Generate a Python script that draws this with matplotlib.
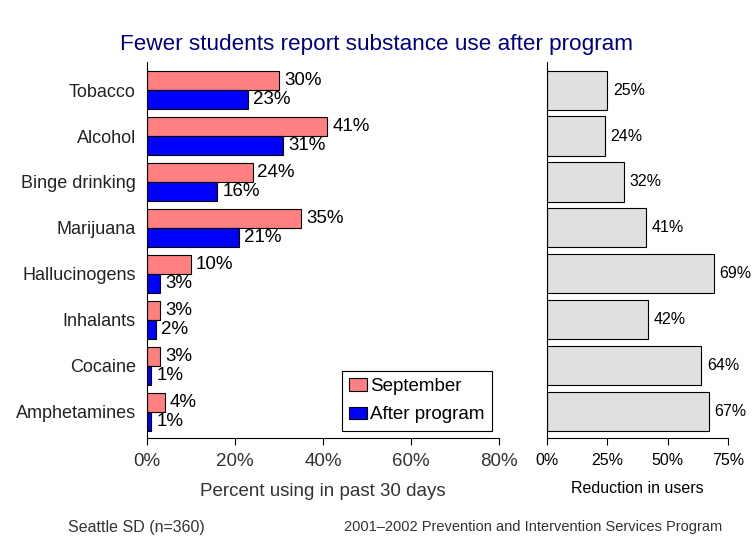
import matplotlib
matplotlib.use("Agg")
import matplotlib.pyplot as plt
import numpy as np

plt.rcParams['font.family'] = ['Liberation Sans', 'DejaVu Sans']

# datos
sustancias = ['Tobacco', 'Alcohol', 'Binge drinking', 'Marijuana',
              'Hallucinogens', 'Inhalants', 'Cocaine', 'Amphetamines']
septiembre = [30, 41, 24, 35, 10, 3, 3, 4]
despues = [23, 31, 16, 21, 3, 2, 1, 1]
reduccion = [25, 24, 32, 41, 69, 42, 64, 67]

y = np.arange(len(sustancias))

fig = plt.figure(figsize=(7.52, 5.41), dpi=100)
ax = fig.add_axes([0.1955, 0.1904, 0.468, 0.695])
ax2 = fig.add_axes([0.7274, 0.1904, 0.2407, 0.695])

h = 0.41
ax.barh(y - h/2, septiembre, height=h, color='#FF8080', edgecolor='black',
        linewidth=0.8, label='September')
ax.barh(y + h/2, despues, height=h, color='#0000FF', edgecolor='black',
        linewidth=0.8, label='After program')
for i in range(len(y)):
    ax.annotate('%i%%' % septiembre[i], (septiembre[i], y[i] - h/2), xytext=(3.5, 0),
                textcoords='offset points', va='center', ha='left', fontsize=13.5)
    ax.annotate('%i%%' % despues[i], (despues[i], y[i] + h/2), xytext=(3.5, 0),
                textcoords='offset points', va='center', ha='left', fontsize=13.5)

ax.set_xlim(0, 80)
ax.set_ylim(7.57, -0.61)
ax.set_xticks([0, 20, 40, 60, 80])
ax.set_xticklabels(['0%', '20%', '40%', '60%', '80%'], fontsize=13.5, color='#333333')
ax.set_yticks(y)
ax.set_yticklabels(sustancias, fontsize=13, color='#222222')
ax.tick_params(axis='y', length=0, pad=8)
ax.tick_params(axis='x', direction='out', length=5, pad=6)
ax.set_xlabel('Percent using in past 30 days', fontsize=13.5, color='#333333', labelpad=9)
for s in ['top', 'right']:
    ax.spines[s].set_visible(False)
leg = ax.legend(loc='lower right', bbox_to_anchor=(0.98, 0.019), fontsize=13.5,
                fancybox=False, edgecolor='black', handlelength=0.95, handleheight=0.65,
                handletextpad=0.15, borderpad=0.4, labelspacing=0.6, borderaxespad=0,
                framealpha=1)
leg.get_frame().set_linewidth(0.8)

# reduccion
ax2.barh(y, reduccion, height=0.85, color='#E0E0E0', edgecolor='black', linewidth=0.8)
for i in range(len(y)):
    ax2.annotate('%i%%' % reduccion[i], (reduccion[i], y[i]), xytext=(4, 0),
                 textcoords='offset points', va='center', ha='left', fontsize=11.5)
ax2.set_xlim(0, 75)
ax2.set_ylim(7.57, -0.61)
ax2.set_xticks([0, 25, 50, 75])
ax2.set_xticklabels(['0%', '25%', '50%', '75%'], fontsize=11.5)
ax2.set_yticks([])
ax2.tick_params(axis='x', direction='out', length=5, pad=6)
ax2.set_xlabel('Reduction in users', fontsize=11.5, labelpad=9)
for s in ['top', 'right']:
    ax2.spines[s].set_visible(False)

fig.text(0.5, 0.917, 'Fewer students report substance use after program',
         ha='center', va='center', fontsize=16.2, color='#000080')
fig.text(0.09, 0.025, 'Seattle SD (n=360)', fontsize=11.5, color='#333333', va='center')
fig.text(0.96, 0.025, '2001\u20132002 Prevention and Intervention Services Program',
         fontsize=10.5, color='#333333', va='center', ha='right')

fig.savefig('out.png', dpi=100)
